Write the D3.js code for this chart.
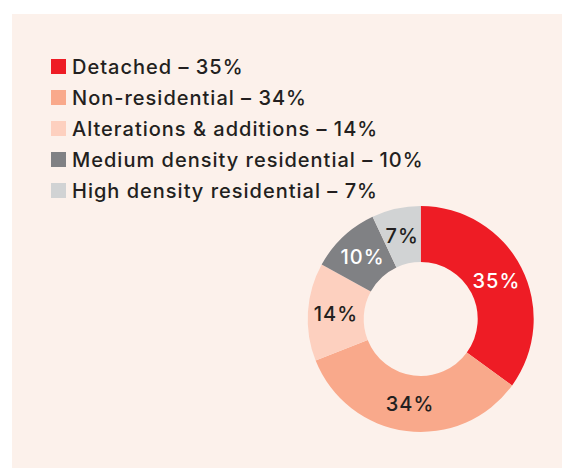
<!DOCTYPE html>
<html>
<head>
<meta charset="utf-8">
<script src="https://cdn.jsdelivr.net/npm/d3@7"></script>
<style>
  html, body { margin: 0; padding: 0; background: #ffffff; }
  svg { display: block; }
</style>
</head>
<body>
<svg id="chart" width="562" height="468"></svg>
<script>
const categories = ["Detached", "Non-residential", "Alterations & additions", "Medium density residential", "High density residential"];
const values = [35, 34, 14, 10, 7];
const colors = ["#ee1c25", "#f9a98b", "#fdd0bf", "#808184", "#d1d3d4"];
const labelColors = ["#ffffff", "#231f20", "#231f20", "#ffffff", "#231f20"];

const svg = d3.select("#chart");
const W = 562, H = 468;
const fontFamily = "Inter, 'DejaVu Sans', sans-serif";

svg.append("rect").attr("x", 12).attr("y", 14).attr("width", W - 12).attr("height", H - 14)
  .attr("fill", "#fcf1eb");

// Legend
const legend = svg.append("g").attr("transform", "translate(51,59)");
const rowH = 31;
const rows = legend.selectAll("g").data(categories).join("g")
  .attr("transform", (d, i) => `translate(0,${i * rowH})`);
rows.append("rect").attr("width", 15).attr("height", 15).attr("fill", (d, i) => colors[i]);
rows.append("text").attr("x", 21).attr("y", 15)
  .attr("font-family", fontFamily).attr("font-size", 20).attr("font-weight", 500)
  .attr("letter-spacing", 1)
  .attr("fill", "#231f20")
  .text((d, i) => `${d} \u2013 ${values[i]}%`);

// Donut
const cx = 420.7, cy = 319, rOuter = 113, rInner = 57;
const pie = d3.pie().sort(null).value(d => d);
const arcs = pie(values);
const arc = d3.arc().innerRadius(rInner).outerRadius(rOuter);
const g = svg.append("g").attr("transform", `translate(${cx},${cy})`);
g.selectAll("path").data(arcs).join("path")
  .attr("d", arc).attr("fill", (d, i) => colors[i]);
const labelArc = d3.arc().innerRadius((rInner + rOuter) / 2).outerRadius((rInner + rOuter) / 2);
g.selectAll("text").data(arcs).join("text")
  .attr("transform", d => `translate(${labelArc.centroid(d)})`)
  .attr("text-anchor", "middle").attr("dy", "0.36em")
  .attr("font-family", fontFamily).attr("font-size", 20).attr("font-weight", 500)
  .attr("letter-spacing", 1)
  .attr("fill", (d, i) => labelColors[i])
  .text(d => `${d.data}%`);
</script>
</body>
</html>
